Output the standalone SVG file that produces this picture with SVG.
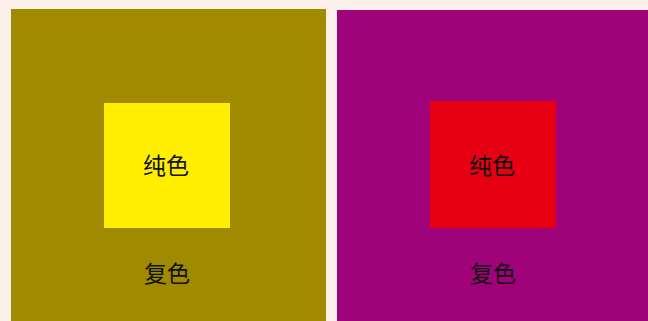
<svg xmlns="http://www.w3.org/2000/svg" width="648" height="321" viewBox="0 0 648 321">
<style>
.t{font-family:"Noto Sans CJK SC","Noto Sans CJK JP",sans-serif;font-size:23px;fill:#111;text-anchor:middle}
</style>
<rect x="0" y="0" width="648" height="321" fill="#fbf0ea"/>
<g id="left">
<rect x="11" y="9" width="315" height="312" fill="#a08a00"/>
<rect x="104" y="103" width="126" height="125" fill="#ffee00"/>
<text class="t" x="166" y="174">纯色</text>
<text class="t" x="167" y="282">复色</text>
</g>
<g id="right">
<rect x="337" y="10" width="311" height="311" fill="#a0027a"/>
<rect x="430" y="101" width="126" height="127" fill="#e60012"/>
<text class="t" x="492" y="174">纯色</text>
<text class="t" x="493" y="282">复色</text>
</g>
</svg>
